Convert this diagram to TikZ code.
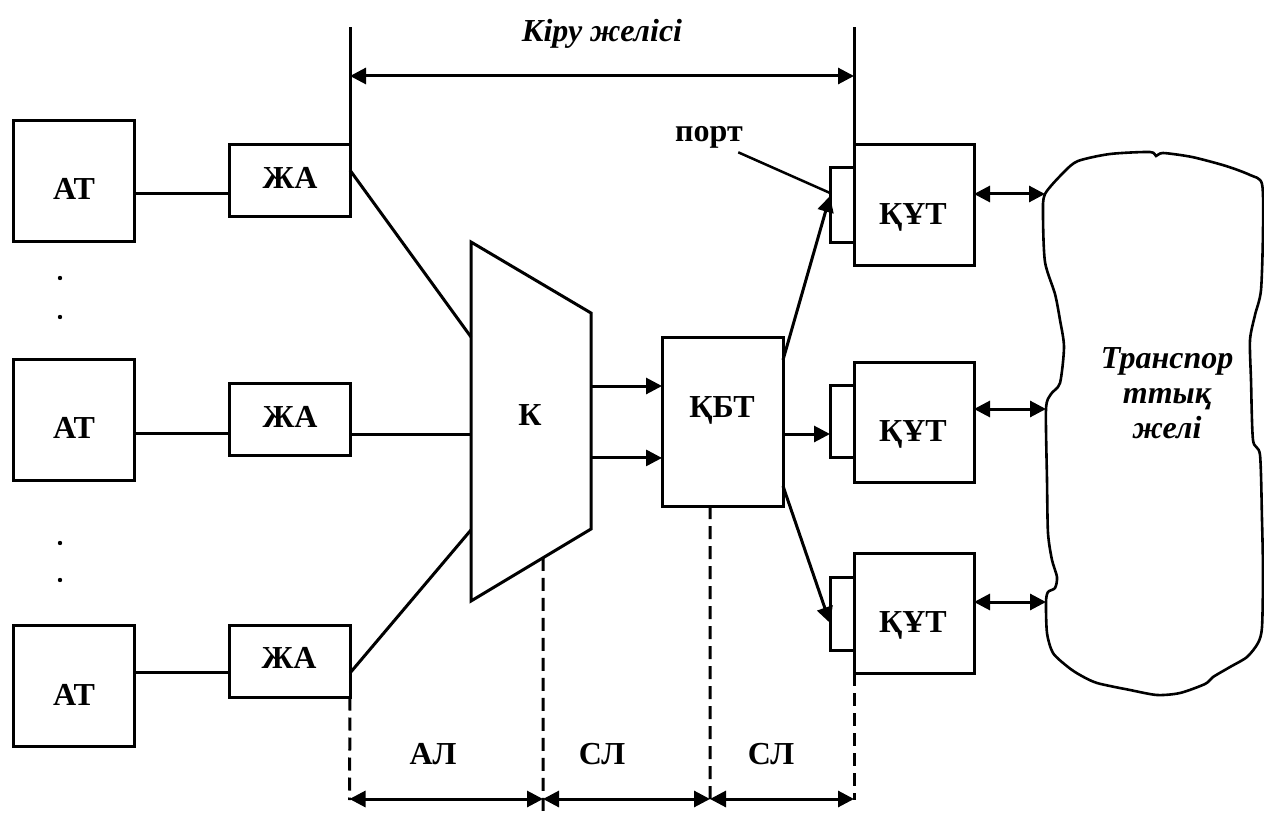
\documentclass[tikz,border=0pt]{standalone}
\usepackage{fontspec}
\setmainfont{Liberation Serif}
\usetikzlibrary{arrows.meta,calc}
\begin{document}
\begin{tikzpicture}[x=1pt,y=-1pt,
  line width=3pt,
  blk/.style={draw,inner sep=0pt,outer sep=0pt},
  lbl/.style={font=\fontsize{32}{36}\selectfont\bfseries,inner sep=0pt,anchor=base},
  ilbl/.style={font=\fontsize{32}{35}\selectfont\bfseries\itshape,inner sep=0pt},
  arr/.style={-{Triangle[length=16pt,width=16pt]}},
  darr/.style={{Triangle[length=16pt,width=16pt]}-{Triangle[length=16pt,width=16pt]}},
  dsh/.style={dash pattern=on 13pt off 7pt}
]
\useasboundingbox (0,0) rectangle (1264,813);

% --- subscriber terminals
\node[blk,minimum width=121pt,minimum height=121pt] (at1) at (73.5,181.5) {};
\node[blk,minimum width=121pt,minimum height=121pt] (at2) at (73.5,419.5) {};
\node[blk,minimum width=121pt,minimum height=121pt] (at3) at (73.5,685.5) {};
\node[lbl] (at1t) at (74,200) {АТ};
\node[lbl] (at2t) at (74,438) {АТ};
\node[lbl] (at3t) at (74,705) {АТ};

% dots
\fill (60,278) circle (2.2pt);
\fill (60,317) circle (2.2pt);
\fill (60,543) circle (2.2pt);
\fill (60,580) circle (2.2pt);

% --- access devices
\node[blk,minimum width=121pt,minimum height=72pt] (ja1) at (289.5,181) {};
\node[blk,minimum width=121pt,minimum height=72pt] (ja2) at (289.5,419) {};
\node[blk,minimum width=121pt,minimum height=72pt] (ja3) at (289.5,661.5) {};
\node[lbl] (ja1t) at (290,189) {ЖА};
\node[lbl] (ja2t) at (290,427) {ЖА};
\node[lbl] (ja3t) at (289,668) {ЖА};

% --- concentrator K (trapezoid)
\coordinate (ktl) at (471,242);
\coordinate (ktr) at (591,313);
\coordinate (kbr) at (591,529);
\coordinate (kbl) at (471,601);
\draw[line join=miter] (ktl) -- (ktr) -- (kbr) -- (kbl) -- cycle;
\node[lbl] (kt) at (530,425) {К};
\coordinate (kin1) at ($(ktl)!0.2646!(kbl)$);
\coordinate (kin2) at ($(ktl)!0.535!(kbl)$);
\coordinate (kin3) at ($(ktl)!0.802!(kbl)$);
\coordinate (kout1) at ($(ktr)!0.338!(kbr)$);
\coordinate (kout2) at ($(ktr)!0.671!(kbr)$);
\coordinate (kbot) at ($(kbr)!0.4!(kbl)$);

% --- switch QBT
\node[blk,minimum width=121pt,minimum height=169pt] (kbt) at (722.5,421.5) {};
\node[lbl] (kbtt) at (722,417) {ҚБТ};

% --- ports and QUT
\node[blk,minimum width=24pt,minimum height=75pt] (p1) at (842,205.5) {};
\node[blk,minimum width=24pt,minimum height=72pt] (p2) at (842,421) {};
\node[blk,minimum width=24pt,minimum height=73pt] (p3) at (842,613.5) {};
\node[blk,minimum width=120pt,minimum height=121pt] (kut1) at (914,205.5) {};
\node[blk,minimum width=120pt,minimum height=120pt] (kut2) at (914,422) {};
\node[blk,minimum width=120pt,minimum height=120pt] (kut3) at (914,613) {};
\node[lbl] (kut1t) at (913,225) {ҚҰТ};
\node[lbl] (kut2t) at (913,441) {ҚҰТ};
\node[lbl] (kut3t) at (913,632) {ҚҰТ};

\node[lbl] (port) at (709,142) {порт};

% --- transport network cloud
\coordinate (cl1) at (1045,194);
\coordinate (cl2) at (1046,409);
\coordinate (cl3) at (1046,602);
\draw[line width=2.6pt] plot[smooth cycle, tension=0.45] coordinates {
 (1064,172) (1078,161) (1110,154) (1150,152) (1156,156) (1163,153) (1192,157)
 (1226,166) (1250,175) (1262,184) (1263,230) (1261,290) (1255,315) (1250,340)
 (1251,380) (1253,440) (1260,455) (1262,520) (1263,573) (1262,627) (1258,643)
 (1247,657) (1230,667) (1213,677) (1205,684) (1180,693) (1157,695) (1130,690)
 (1097,683) (1080,675) (1068,667) (1053,653) (1047,633) (cl3) (1048,592)
 (1055,588) (1057,577) (1052,560) (1048,533) (1047,480) (cl2) (1051,394)
 (1060,383) (1064,347) (1060,320) (1055,294) (1045,262) (1043,215) (cl1)};
\node[ilbl,align=center] (tr) at (1167,393) {Транспор\\ттық\\желі};

% --- connectors AT - ZhA
\coordinate (ja1in) at ($(ja1.north west)!0.667!(ja1.south west)$);
\coordinate (ja2in) at ($(ja2.north west)!0.708!(ja2.south west)$);
\coordinate (ja3in) at ($(ja3.north west)!0.658!(ja3.south west)$);
\draw (at1.east |- ja1in) -- (ja1in);
\draw (at2.east |- ja2in) -- (ja2in);
\draw (at3.east |- ja3in) -- (ja3in);

% --- ZhA - K
\draw ($(ja1.north east)!0.35!(ja1.south east)$) -- (kin1);
\draw (ja2.east |- kin2) -- (kin2);
\draw ($(ja3.north east)!0.66!(ja3.south east)$) -- (kin3);

% --- K - QBT
\draw[arr] (kout1) -- (kout1 -| kbt.west);
\draw[arr] (kout2) -- (kout2 -| kbt.west);

% --- QBT - ports
\draw[arr] ($(kbt.north east)!0.136!(kbt.south east)$) -- ($(p1.north west)!0.373!(p1.south west)$);
\coordinate (kb2) at ($(kbt.north east)!0.574!(kbt.south east)$);
\draw[arr] (kb2) -- (kb2 -| p2.west);
\draw[arr] ($(kbt.north east)!0.882!(kbt.south east)$) -- ($(p3.north west)!0.63!(p3.south west)$);

% port label line
\draw[line width=2.5pt] ([xshift=-6pt,yshift=-2pt]port.south east) -- ($(p1.north west)!0.333!(p1.south west)$);

% --- QUT - cloud
\draw[darr] (kut1.east |- cl1) -- (cl1);
\draw[darr] (kut2.east |- cl2) -- (cl2);
\draw[darr] (kut3.east |- cl3) -- (cl3);

% --- top dimension
\coordinate (dL) at (350,27);
\coordinate (dR) at (854,27);
\coordinate (aL) at (350,76);
\coordinate (aR) at (854,76);
\draw (ja1.north east) -- (dL);
\draw (kut1.north west) -- (dR);
\draw[darr] (aL) -- (aR);
\node[ilbl,anchor=base] (kiru) at (602,42) {Кіру желісі};

% --- bottom dimensions
\coordinate (b1) at (349.5,800);
\coordinate (b2) at (543,813);
\coordinate (b3) at (710,800);
\coordinate (b4) at (854,800);
\coordinate (kbtb) at ($(kbt.south west)!0.397!(kbt.south east)$);
\draw[dsh] (ja3.south east) -- (b1);
\draw[dsh] (kbot) -- (b2);
\draw[dsh] (kbtb) -- (b3);
\draw[dsh] (kut3.south west) -- (b4);
\coordinate (m1) at (349.5,799);
\coordinate (m2) at (543,799);
\coordinate (m3) at (710,799);
\coordinate (m4) at (854,799);
\draw[darr] (m1) -- (m2);
\draw[darr] (m2) -- (m3);
\draw[darr] (m3) -- (m4);
\node[lbl] (al) at (433,764) {АЛ};
\node[lbl] (sl1) at (602,764) {СЛ};
\node[lbl] (sl2) at (771,764) {СЛ};
\end{tikzpicture}
\end{document}
